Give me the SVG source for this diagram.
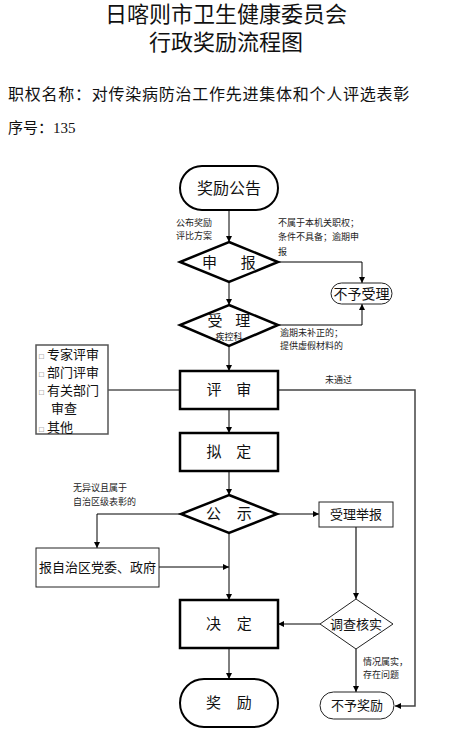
<svg xmlns="http://www.w3.org/2000/svg" width="460" height="738" viewBox="0 0 460 738">
<style>
text{font-family:"Liberation Serif","Noto Sans CJK SC",serif;fill:#111}
.t{font-size:22px;text-anchor:middle}
.h{font-size:16px;letter-spacing:0.75px}
.n15{font-size:15px;text-anchor:middle}
.n13{font-size:13px;text-anchor:middle}
.s{font-size:9px;fill:#222}
.thick{fill:#fff;stroke:#000;stroke-width:2.5}
.med{fill:#fff;stroke:#000;stroke-width:2}
.thin{fill:#fff;stroke:#222;stroke-width:1}
.gray{fill:#fff;stroke:#555;stroke-width:1.5}
.c{fill:none;stroke:#000;stroke-width:1}
.cg{fill:none;stroke:#444;stroke-width:1.5}
</style>
<defs>
<marker id="arr" markerUnits="userSpaceOnUse" markerWidth="7" markerHeight="7" refX="6" refY="3" orient="auto">
<path d="M0,0 L6,3 L0,6 z" fill="#000"/>
</marker>
</defs>
<rect width="460" height="738" fill="#fff"/>
<g id="header">
<text class="t" x="226" y="22">日喀则市卫生健康委员会</text>
<text class="t" x="226" y="50">行政奖励流程图</text>
<text class="h" x="8" y="100">职权名称：对传染病防治工作先进集体和个人评选表彰</text>
<text x="8" y="133" style="font-size:15px">序号：135</text>
</g>
<g id="connectors">
<line class="c" x1="229" y1="210" x2="229" y2="242" marker-end="url(#arr)"/>
<polyline class="c" points="278,262 362,262 362,283" marker-end="url(#arr)"/>
<line class="c" x1="229" y1="282" x2="229" y2="305" marker-end="url(#arr)"/>
<polyline class="c" points="278,325 362,325 362,304" marker-end="url(#arr)"/>
<line class="c" x1="229" y1="346" x2="229" y2="371" marker-end="url(#arr)"/>
<line class="c" x1="108" y1="390" x2="180" y2="390"/>
<polyline class="cg" points="278,390 415,390 415,706 395,706" marker-end="url(#arr)"/>
<line class="c" x1="229" y1="409" x2="229" y2="433" marker-end="url(#arr)"/>
<line class="c" x1="229" y1="471" x2="229" y2="495" marker-end="url(#arr)"/>
<polyline class="c" points="181,514 97,514 97,548" marker-end="url(#arr)"/>
<line class="c" x1="159" y1="567" x2="229" y2="567" marker-end="url(#arr)"/>
<line class="c" x1="229" y1="533" x2="229" y2="600" marker-end="url(#arr)"/>
<line class="c" x1="277" y1="514" x2="319" y2="514" marker-end="url(#arr)"/>
<line class="cg" x1="356" y1="527" x2="356" y2="599" marker-end="url(#arr)"/>
<line class="c" x1="320" y1="624" x2="278" y2="624" marker-end="url(#arr)"/>
<line class="c" x1="229" y1="648" x2="229" y2="679" marker-end="url(#arr)"/>
<line class="cg" x1="356" y1="649" x2="356" y2="692" marker-end="url(#arr)"/>
</g>
<g id="labels">
<text class="s" x="176" y="226">公布奖励</text>
<text class="s" x="176" y="239">评比方案</text>
<text class="s" x="278" y="226">不属于本机关职权；</text>
<text class="s" x="278" y="240">条件不具备；逾期申</text>
<text class="s" x="278" y="255">报</text>
<text class="s" x="280" y="336">逾期未补正的；</text>
<text class="s" x="280" y="349">提供虚假材料的</text>
<text class="s" x="325" y="383">未通过</text>
<text class="s" x="73" y="491">无异议且属于</text>
<text class="s" x="73" y="505">自治区级表彰的</text>
<text class="s" x="363" y="665">情况属实，</text>
<text class="s" x="363" y="678">存在问题</text>
</g>
<g id="n-announce">
<rect class="med" x="180" y="166" width="98" height="44" rx="22"/>
<text x="229" y="194" style="font-size:16px;text-anchor:middle">奖励公告</text>
</g>
<g id="n-apply">
<polygon class="thick" points="229,242 278,262 229,282 180,262"/>
<text class="n15" x="229" y="268" word-spacing="20">申 报</text>
</g>
<g id="n-reject1">
<rect class="thin" x="331" y="283" width="61" height="21" rx="10.5"/>
<text x="361.5" y="298.5" style="font-size:14px;text-anchor:middle">不予受理</text>
</g>
<g id="n-accept">
<polygon class="thick" points="229,305 278,325 229,346 180,325"/>
<text class="n15" x="229" y="326" word-spacing="9">受 理</text>
<text x="229" y="340" style="font-size:9px;text-anchor:middle">疾控科</text>
</g>
<g id="n-methods">
<rect class="gray" x="36" y="345" width="72" height="89"/>
<text x="39" y="359" style="font-size:13px"><tspan style="font-size:8px;fill:#666">□</tspan> 专家评审</text>
<text x="39" y="377" style="font-size:13px"><tspan style="font-size:8px;fill:#666">□</tspan> 部门评审</text>
<text x="39" y="395" style="font-size:13px"><tspan style="font-size:8px;fill:#666">□</tspan> 有关部门</text>
<text x="51" y="413" style="font-size:13px">审查</text>
<text x="39" y="432" style="font-size:13px"><tspan style="font-size:8px;fill:#666">□</tspan> 其他</text>
</g>
<g id="n-review">
<rect class="thick" x="180" y="371" width="98" height="38"/>
<text class="n15" x="229" y="395" word-spacing="11">评 审</text>
</g>
<g id="n-draft">
<rect class="thick" x="180" y="433" width="98" height="38"/>
<text class="n15" x="229" y="457" word-spacing="11">拟 定</text>
</g>
<g id="n-publicize">
<polygon class="thick" points="229,495 277,514 229,533 181,514"/>
<text class="n15" x="229" y="519" word-spacing="12">公 示</text>
</g>
<g id="n-report">
<rect class="thin" x="36" y="548" width="123" height="39"/>
<text class="n13" x="97.5" y="572">报自治区党委、政府</text>
</g>
<g id="n-complaint">
<rect class="thin" x="319" y="502" width="74" height="25"/>
<text class="n13" x="356" y="519">受理举报</text>
</g>
<g id="n-decide">
<rect class="thick" x="180" y="600" width="98" height="48"/>
<text class="n15" x="229" y="629" word-spacing="12">决 定</text>
</g>
<g id="n-investigate">
<polygon class="thin" points="356,599 393,624 356,649 320,624"/>
<text class="n13" x="356" y="628.5">调查核实</text>
</g>
<g id="n-award">
<rect class="med" x="180" y="679" width="98" height="48" rx="24"/>
<text class="n15" x="229" y="708" word-spacing="12">奖 励</text>
</g>
<g id="n-reject2">
<rect class="thin" x="320" y="692" width="74" height="27" rx="13.5"/>
<text class="n13" x="357" y="710">不予奖励</text>
</g>
</svg>
